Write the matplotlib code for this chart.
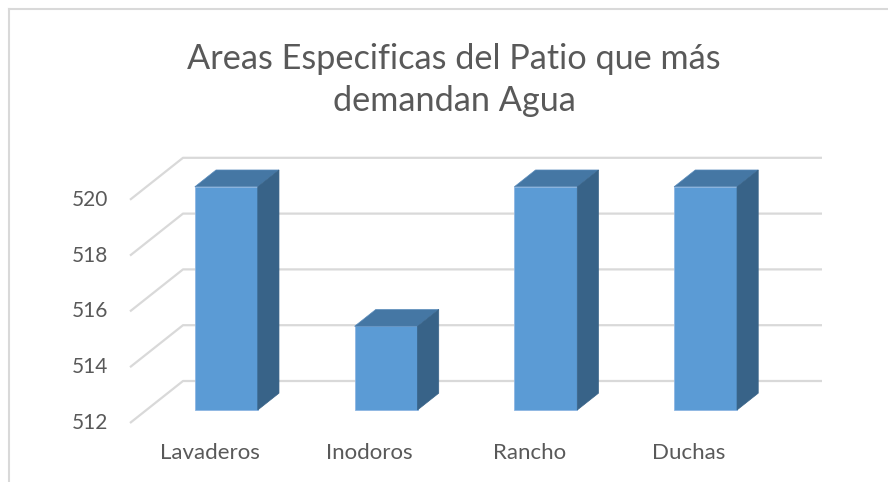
import matplotlib
matplotlib.use("Agg")
import matplotlib.pyplot as plt
from matplotlib.patches import Polygon

# data
categories = ["Lavaderos", "Inodoros", "Rancho", "Duchas"]
values = [520, 515, 520, 520]
y_ticks = [512, 514, 516, 518, 520]
title = "Areas Especificas del Patio que más\ndemandan Agua"

plt.rcParams['font.family'] = ['Lato', 'DejaVu Sans']

W, H = 888, 482
fig = plt.figure(figsize=(W / 100, H / 100), dpi=100)
ax = fig.add_axes([0, 0, 1, 1])

# pixel layout of the excel-style oblique plot area
px_left = 130          # front-left corner of floor (x = -0.5)
px_per_cat = 159.75
px_base = 423          # value 512 at front
px_per_unit = 27.9
depth_px = (53, 42)    # offset of back wall

ax.set_xlim(-0.5 - px_left / px_per_cat, -0.5 + (W - px_left) / px_per_cat)
ax.set_ylim(y_ticks[0] - (H - px_base) / px_per_unit, y_ticks[0] + px_base / px_per_unit)
ax.axis("off")

ddx = depth_px[0] / px_per_cat
ddy = depth_px[1] / px_per_unit


def proj(x, v, t):
    return (x + ddx * t, v + ddy * t)


grid_col = "#d9d9d9"
n = len(categories)
base = y_ticks[0]

# gridlines: left diagonal + back wall horizontal
for v in y_ticks:
    x0, y0 = proj(-0.5, v, 0)
    x1, y1 = proj(-0.5, v, 1)
    x2, y2 = proj(n - 0.5, v, 1)
    ax.plot([x0, x1, x2], [y0, y1, y2], color=grid_col, lw=1.6,
            solid_capstyle="butt", zorder=1)
    ax.text(x0 - 22 / px_per_cat, v, str(v), ha="right", va="center",
            fontsize=15, color="#595959")

# bars
bar_w = 0.394
t0, t1 = 0.31, 0.71
front_col = "#5b9bd5"
top_col = "#4577a4"
side_col = "#386388"
for i, v in enumerate(values):
    xl, xr = i - bar_w / 2, i + bar_w / 2
    fx, fy = proj(i, base, t0)
    ax.bar(fx, v - base, bottom=fy, width=bar_w, color=front_col,
           edgecolor="#8db6e2", linewidth=0.6, zorder=3)
    top = [proj(xl, v, t0), proj(xr, v, t0), proj(xr, v, t1), proj(xl, v, t1)]
    ax.add_patch(Polygon(top, closed=True, facecolor=top_col,
                         edgecolor="#5a8cbc", linewidth=0.5, zorder=3))
    side = [proj(xr, base, t0), proj(xr, v, t0), proj(xr, v, t1), proj(xr, base, t1)]
    ax.add_patch(Polygon(side, closed=True, facecolor=side_col,
                         edgecolor=side_col, linewidth=0.5, zorder=3))
    ax.text(i, base - 30 / px_per_unit, categories[i], ha="center", va="center",
            fontsize=16, color="#595959")

fig.text(454 / W, 1 - 80 / H, title, ha="center", va="center", fontsize=24.7,
         color="#595959", linespacing=1.35)

# chart border (cropped on right/bottom)
fig.add_artist(plt.Line2D([8.5 / W, 8.5 / W], [0, 1 - 8.5 / H], color=grid_col, lw=1.5))
fig.add_artist(plt.Line2D([8.5 / W, 1], [1 - 8.5 / H, 1 - 8.5 / H], color=grid_col, lw=1.5))

fig.savefig("out.png", dpi=100, facecolor="white")
